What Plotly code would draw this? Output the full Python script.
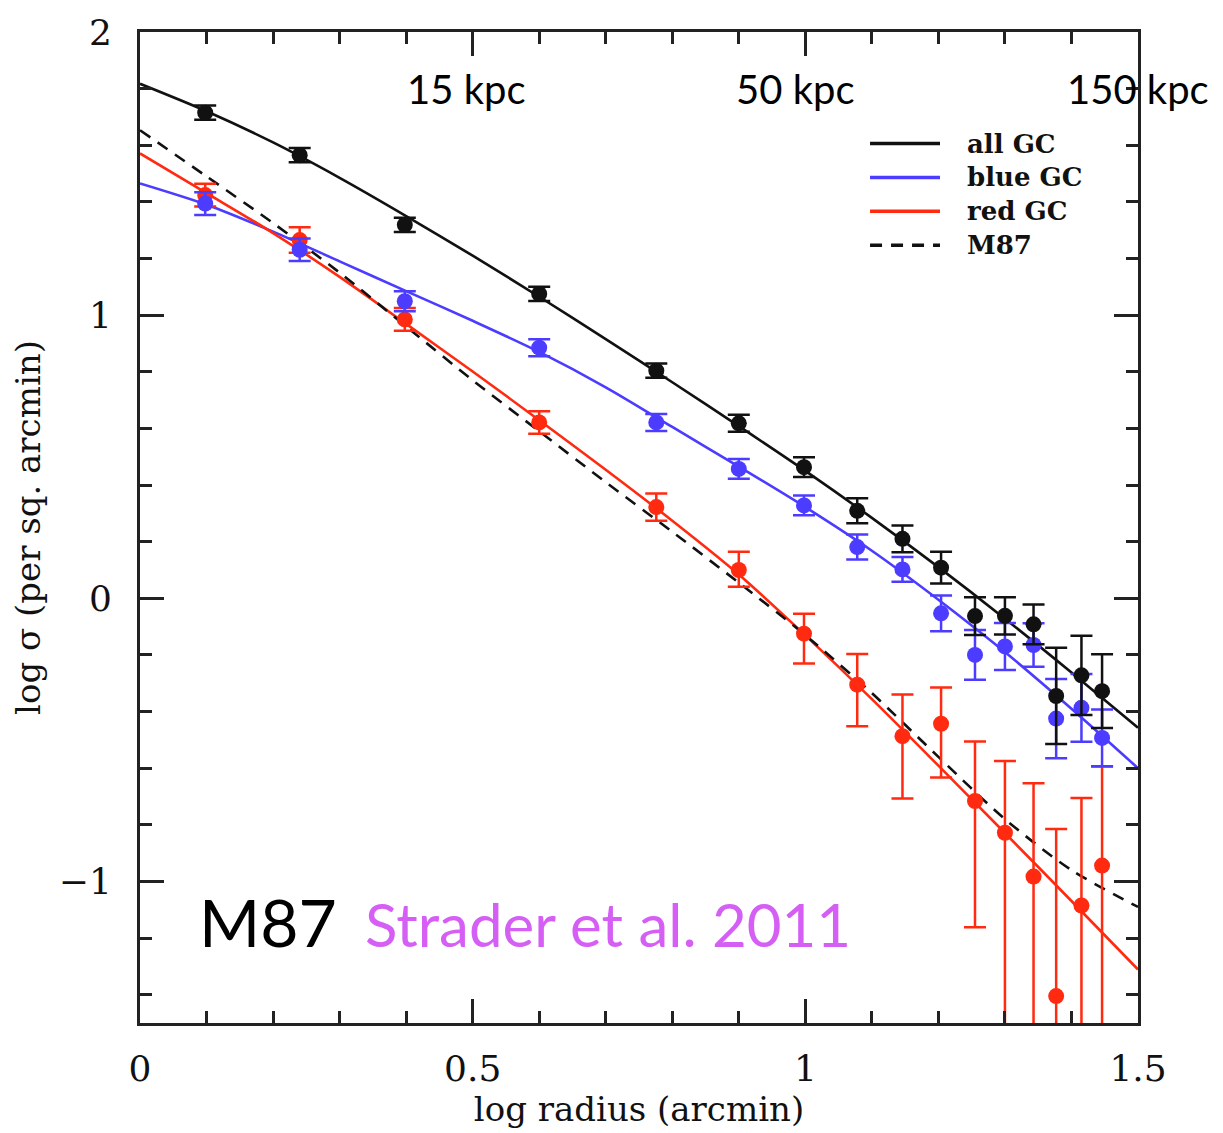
import plotly.graph_objects as go

# ---- data ----
log_r = [0.098, 0.24, 0.398, 0.60, 0.776, 0.90, 0.998, 1.078, 1.146, 1.204,
         1.255, 1.30, 1.343, 1.377, 1.415, 1.446]

all_y = [1.715, 1.565, 1.319, 1.075, 0.804, 0.618, 0.463, 0.309, 0.210, 0.108,
         -0.063, -0.062, -0.092, -0.345, -0.272, -0.328]
all_err = [0.025, 0.025, 0.025, 0.025, 0.025, 0.03, 0.035, 0.044, 0.047, 0.056,
           0.067, 0.066, 0.07, 0.17, 0.14, 0.13]

blue_y = [1.394, 1.231, 1.049, 0.885, 0.621, 0.457, 0.328, 0.181, 0.102, -0.053,
          -0.20, -0.17, -0.165, -0.425, -0.387, -0.493]
blue_err = [0.04, 0.04, 0.035, 0.03, 0.03, 0.035, 0.035, 0.044, 0.044, 0.063,
            0.088, 0.083, 0.077, 0.14, 0.12, 0.10]

red_y = [1.424, 1.265, 0.985, 0.621, 0.322, 0.100, -0.125, -0.305, -0.487, -0.443,
         -0.716, -0.828, -0.983, -1.405, -1.085, -0.944]
red_err_plus = [0.04, 0.045, 0.04, 0.04, 0.048, 0.064, 0.07, 0.108, 0.147, 0.128,
                0.21, 0.253, 0.33, 0.59, 0.38, 0.35]
red_err_minus = [0.04, 0.045, 0.04, 0.04, 0.048, 0.059, 0.105, 0.147, 0.22, 0.19,
                 0.446, 1.0, 1.0, 1.0, 1.0, 1.0]

fit_x = [0.0, 0.1, 0.2, 0.3, 0.4, 0.5, 0.6, 0.7, 0.8, 0.9, 1.0, 1.1, 1.2, 1.3, 1.4, 1.5]
fit_all = [1.817, 1.72, 1.61, 1.485, 1.35, 1.21, 1.065, 0.915, 0.763, 0.608,
           0.45, 0.284, 0.11, -0.072, -0.262, -0.457]
fit_blue = [1.465, 1.39, 1.295, 1.19, 1.085, 0.98, 0.87, 0.745, 0.605, 0.465,
            0.322, 0.168, -0.005, -0.19, -0.39, -0.60]
fit_red = [1.571, 1.431, 1.29, 1.135, 0.969, 0.801, 0.629, 0.454, 0.274, 0.084,
           -0.131, -0.356, -0.591, -0.829, -1.069, -1.311]
fit_m87 = [1.653, 1.49, 1.325, 1.15, 0.96, 0.77, 0.59, 0.41, 0.235, 0.055,
           -0.13, -0.335, -0.56, -0.78, -0.96, -1.09]

legend_names = ["all GC", "blue GC", "red GC", "M87"]

kpc_labels = ["15 kpc", "50 kpc", "150 kpc"]
kpc_pos = [0.49, 0.985, 1.50]

x_ticks = [0, 0.5, 1, 1.5]
x_ticklabels = ["0", "0.5", "1", "1.5"]
y_ticks = [-1, 0, 1, 2]

BLACK = "#111111"
BLUE = "#4b3cff"
RED = "#ff2a10"
VIOLET = "#d55ff5"

fits = [fit_all, fit_blue, fit_red, fit_m87]
colors = [BLACK, BLUE, RED, BLACK]
dashes = ["solid", "solid", "solid", "12px,9px"]

fig = go.Figure()

# fitted profiles
for name, ys, col, dash in zip(legend_names, fits, colors, dashes):
    fig.add_trace(go.Scatter(x=fit_x, y=ys, mode="lines", name=name, showlegend=False,
                             line=dict(color=col, width=2.6, dash=dash),
                             line_shape="spline", line_smoothing=0.8))

# data points with error bars
fig.add_trace(go.Scatter(x=log_r, y=red_y, mode="markers", showlegend=False, name="red GC data",
                         marker=dict(color=RED, size=16),
                         error_y=dict(type="data", symmetric=False, array=red_err_plus,
                                      arrayminus=red_err_minus, color=RED,
                                      thickness=2.5, width=11)))
fig.add_trace(go.Scatter(x=log_r, y=blue_y, mode="markers", showlegend=False, name="blue GC data",
                         marker=dict(color=BLUE, size=16),
                         error_y=dict(type="data", array=blue_err, color=BLUE,
                                      thickness=2.5, width=11)))
fig.add_trace(go.Scatter(x=log_r, y=all_y, mode="markers", showlegend=False, name="all GC data",
                         marker=dict(color=BLACK, size=16),
                         error_y=dict(type="data", array=all_err, color=BLACK,
                                      thickness=2.5, width=11)))

# legend drawn as key lines + labels (top right)
shapes = []
annotations = []
leg_x0, leg_x1, leg_tx = 0.7315, 0.8016, 0.8267
leg_y_top, leg_dy = 0.8874, 0.0342
for i, (name, col, dash) in enumerate(zip(legend_names, colors, dashes)):
    yy = leg_y_top - i * leg_dy
    shapes.append(dict(type="line", xref="paper", yref="paper", x0=leg_x0, x1=leg_x1,
                       y0=yy, y1=yy, line=dict(color=col, width=3.5,
                                               dash="12px,9px" if dash != "solid" else "solid")))
    annotations.append(dict(x=leg_tx, y=yy, xref="paper", yref="paper", text=name,
                            showarrow=False, xanchor="left", yanchor="middle",
                            font=dict(family="DejaVu Serif", size=26, color="#111111",
                                      weight="bold")))

for lab, xp in zip(kpc_labels, kpc_pos):
    annotations.append(dict(x=xp, y=1.80, xref="x", yref="y", text=lab,
                            showarrow=False, font=dict(family="Lato", size=40, color="black"),
                            xanchor="center", yanchor="middle"))
annotations.append(dict(x=0.192, y=-1.14, xref="x", yref="y", text="M87", showarrow=False,
                        font=dict(family="Lato", size=66, color="black"),
                        xanchor="center", yanchor="middle"))
annotations.append(dict(x=0.703, y=-1.15, xref="x", yref="y", text="Strader et al. 2011",
                        showarrow=False, font=dict(family="Lato", size=60, color=VIOLET),
                        xanchor="center", yanchor="middle"))

axis_common = dict(showgrid=False, zeroline=False, showline=True, linecolor="#222222",
                   linewidth=3, mirror="allticks", ticks="inside", ticklen=24,
                   tickwidth=2.5, tickcolor="#222222",
                   tickfont=dict(family="DejaVu Serif", size=36, color="#111111"))

fig.update_layout(
    width=1223, height=1133,
    margin=dict(l=140, r=85, t=28, b=110),
    paper_bgcolor="white", plot_bgcolor="white",
    xaxis=dict(range=[0, 1.5], tickvals=x_ticks, ticktext=x_ticklabels,
               minor=dict(dtick=0.1, ticks="inside", ticklen=12, tickwidth=2.5,
                          tickcolor="#222222"),
               title=dict(text="log radius (arcmin)", standoff=6,
                          font=dict(family="DejaVu Serif", size=34, color="#111111")),
               ticklabelstandoff=12, **axis_common),
    yaxis=dict(range=[-1.5, 2], tickvals=y_ticks,
               minor=dict(dtick=0.2, ticks="inside", ticklen=12, tickwidth=2.5,
                          tickcolor="#222222"),
               title=dict(text="log σ (per sq. arcmin)", standoff=8,
                          font=dict(family="DejaVu Serif", size=34, color="#111111")),
               ticklabelstandoff=18, **axis_common),
    shapes=shapes,
    annotations=annotations,
    showlegend=False,
)

fig.write_html("out.html")
